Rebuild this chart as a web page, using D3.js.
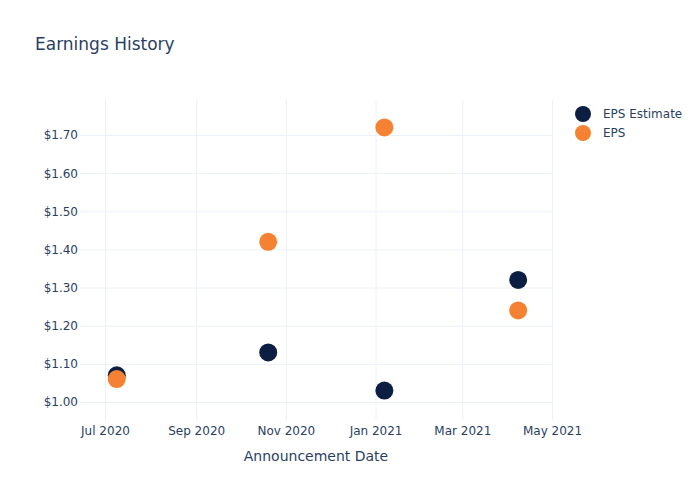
<!DOCTYPE html>
<html><head><meta charset="utf-8">
<script src="https://cdn.jsdelivr.net/npm/d3@7"></script>
<style>body{margin:0;background:#fff}text{font-family:"DejaVu Sans",Verdana,sans-serif}</style>
</head><body><svg id="c" width="700" height="500"></svg>
<script>
const dates = ["2020-07-09","2020-10-20","2021-01-07","2021-04-08"];
const epsEstimate = [1.07, 1.13, 1.03, 1.32];
const eps = [1.06, 1.42, 1.72, 1.24];
const yTicks = [1.00,1.10,1.20,1.30,1.40,1.50,1.60,1.70];
const xTicks = ["2020-07-01","2020-09-01","2020-11-01","2021-01-01","2021-03-01","2021-05-01"];
const seriesNames = ["EPS Estimate","EPS"];
const colors = ["#0c1f43","#f58232"];

const parse = d3.timeParse("%Y-%m-%d");
const svg = d3.select("#c");
const L=80,R=552,T=100,B=420;
const x = d3.scaleTime().domain([parse("2020-06-14"), parse("2021-05-02")]).range([L,R]);
// calibrate so Jul 1 -> 104, May 1 -> 551
x.domain([d3.timeDay.offset(parse("2020-07-01"), -(104-L)/ (447/304)), d3.timeDay.offset(parse("2021-05-01"), (R-551)/(447/304))]);
const y = d3.scaleLinear().domain([1.0 - (B-402)/381.4, 1.0 + (402-T)/381.4]).range([B,T]);
const txt="#2a3f5f", grid="#ebf0f8";

svg.append("text").attr("x",35).attr("y",50).attr("fill",txt).style("font-size","17px").text("Earnings History");

const gy = svg.append("g").attr("transform",`translate(${L},0)`)
 .call(d3.axisLeft(y).tickValues(yTicks).tickSize(-(R-L)).tickFormat(d=>"$"+d3.format(".2f")(d)));
gy.select(".domain").remove();
gy.selectAll("line").attr("stroke",grid);
gy.selectAll("text").attr("fill",txt).attr("x",-2).style("font-size","12px").attr("font-family",null);

const gx = svg.append("g").attr("transform",`translate(0,${B})`)
 .call(d3.axisBottom(x).tickValues(xTicks.map(parse)).tickSize(-(B-T)).tickFormat(d3.timeFormat("%b %Y")));
gx.select(".domain").remove();
gx.selectAll("line").attr("stroke",grid);
gx.selectAll("text").attr("fill",txt).attr("y",6).attr("dy","0.71em").style("font-size","12px").attr("font-family",null);

svg.append("text").attr("x",(L+R)/2).attr("y",461).attr("text-anchor","middle").attr("fill",txt).style("font-size","14px").text("Announcement Date");

[epsEstimate, eps].forEach((vals,i)=>{
  svg.append("g").selectAll("circle").data(vals).join("circle")
   .attr("cx",(d,j)=>x(parse(dates[j]))).attr("cy",d=>y(d)).attr("r",9).attr("fill",colors[i]);
});

const lg = svg.append("g");
seriesNames.forEach((n,i)=>{
  lg.append("circle").attr("cx",583).attr("cy",114+i*19).attr("r",8).attr("fill",colors[i]);
  lg.append("text").attr("x",603).attr("y",114+i*19).attr("dy","0.35em").attr("fill",txt).style("font-size","12px").text(n);
});
</script></body></html>
